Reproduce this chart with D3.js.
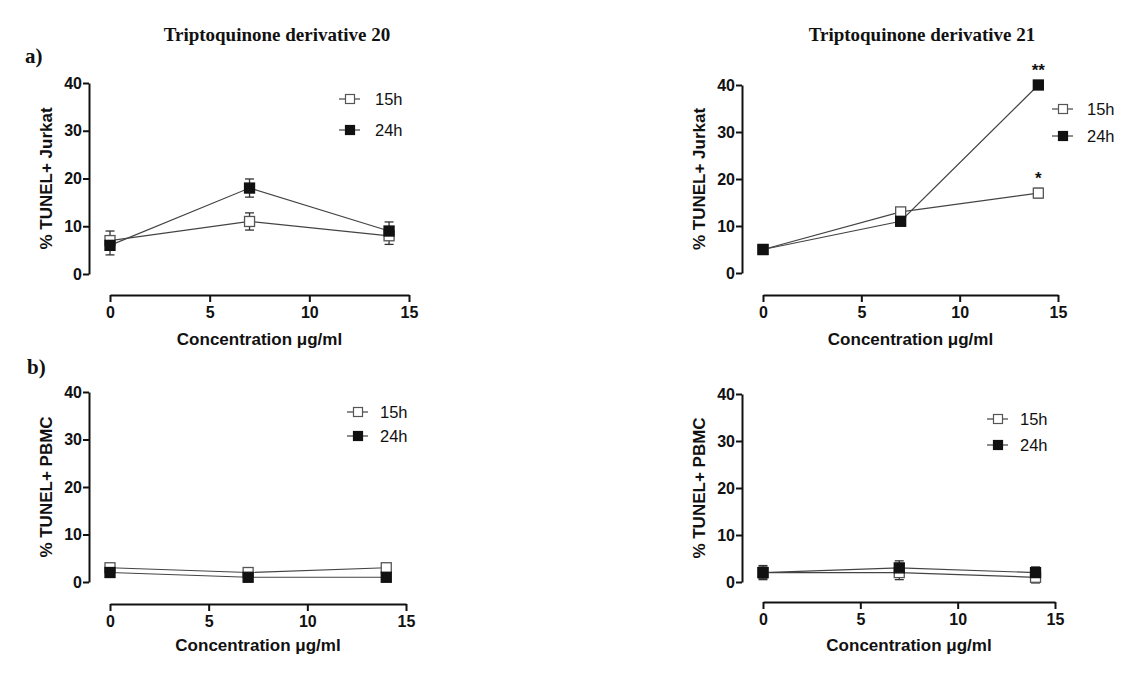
<!DOCTYPE html>
<html>
<head>
<meta charset="UTF-8">
<title>TUNEL</title>
<script src="https://cdn.jsdelivr.net/npm/d3@7"></script>
<style>
  body { margin: 0; background: #fff; }
  svg text { fill: #111; }
  .domain, .tick line { stroke: #111; stroke-width: 2px; }
</style>
</head>
<body>
<script>
// data
var conc = [0, 7, 14];
var seriesNames = ["15h", "24h"];
var xTicks = [0, 5, 10, 15];
var yTicks = [0, 10, 20, 30, 40];

var jurkat20_15 = [7, 11, 8],  jurkat20_15err = [2, 1.8, 1.8];
var jurkat20_24 = [6, 18, 9],  jurkat20_24err = [2, 1.9, 1.9];
var jurkat21_15 = [5, 13, 17], jurkat21_15err = [0.8, 0.8, 1];
var jurkat21_24 = [5, 11, 40], jurkat21_24err = [0.8, 0.8, 0.6];
var pbmc20_15 = [3, 2, 3],     pbmc20_15err = [0.6, 0.5, 0.6];
var pbmc20_24 = [2, 1, 1],     pbmc20_24err = [0.5, 0.5, 0.5];
var pbmc21_15 = [2, 2, 1],     pbmc21_15err = [1.5, 1.5, 1.2];
var pbmc21_24 = [2, 3, 2],     pbmc21_24err = [1.2, 1.5, 1.2];

var W = 1131, H = 675;
var sans = "Liberation Sans, Arial, sans-serif";
var serif = "Liberation Serif, Times New Roman, serif";
var svg = d3.select("body").append("svg").attr("width", W).attr("height", H);

// panel layout: yaxis x, x range, y range, x-axis y, legend spot
var panels = [
  { ylab: "% TUNEL+ Jurkat", ax: 89, x0: 110, x1: 409, yTop: 83, yBot: 274, xAxisY: 295, xlabY: 339,
    legX: 350, legY: 99, legDy: 31, legTx: 25,
    s15: jurkat20_15, e15: jurkat20_15err, s24: jurkat20_24, e24: jurkat20_24err },
  { ylab: "% TUNEL+ Jurkat", ax: 742, x0: 763, x1: 1058, yTop: 85, yBot: 273, xAxisY: 295, xlabY: 339,
    legX: 1063, legY: 109, legDy: 27, legTx: 24,
    s15: jurkat21_15, e15: jurkat21_15err, s24: jurkat21_24, e24: jurkat21_24err,
    stars: [[14, 40, "**"], [14, 17, "*"]] },
  { ylab: "% TUNEL+ PBMC", ax: 89, x0: 110, x1: 406, yTop: 392, yBot: 582, xAxisY: 604, xlabY: 645,
    legX: 358, legY: 412, legDy: 24, legTx: 22,
    s15: pbmc20_15, e15: pbmc20_15err, s24: pbmc20_24, e24: pbmc20_24err },
  { ylab: "% TUNEL+ PBMC", ax: 742, x0: 763, x1: 1055, yTop: 394, yBot: 582, xAxisY: 602, xlabY: 645,
    legX: 998, legY: 419, legDy: 26, legTx: 22,
    s15: pbmc21_15, e15: pbmc21_15err, s24: pbmc21_24, e24: pbmc21_24err }
];

// titles
function title(x, y, size, txt, anchor) {
  svg.append("text").attr("x", x).attr("y", y).attr("text-anchor", anchor || "start")
    .style("font-family", serif).style("font-weight", "bold").style("font-size", size + "px")
    .text(txt);
}
title(277, 41, 19, "Triptoquinone derivative 20", "middle");
title(922, 41, 19, "Triptoquinone derivative 21", "middle");
title(25, 63, 21, "a)");
title(27, 374, 21, "b)");

panels.forEach(function (p) {
  var x = d3.scaleLinear().domain([0, 15]).range([p.x0, p.x1]);
  var y = d3.scaleLinear().domain([0, 40]).range([p.yBot, p.yTop]);
  var g = svg.append("g");

  // axes (detached, prism style)
  var ya = g.append("g").attr("transform", "translate(" + p.ax + ",0)")
    .call(d3.axisLeft(y).tickValues(yTicks).tickSize(6).tickSizeOuter(0).tickPadding(1));
  var xa = g.append("g").attr("transform", "translate(0," + p.xAxisY + ")")
    .call(d3.axisBottom(x).tickValues(xTicks).tickSize(7).tickSizeOuter(0).tickPadding(5));
  [ya, xa].forEach(function (a) {
    a.attr("font-size", null).attr("font-family", null);
    a.selectAll(".tick text").style("font-family", sans).style("font-weight", "bold").style("font-size", "16px");
  });

  // axis labels
  g.append("text").attr("x", (p.x0 + p.x1) / 2).attr("y", p.xlabY + 6).attr("text-anchor", "middle")
    .style("font-family", sans).style("font-weight", "bold").style("font-size", "17px")
    .text("Concentration \u03bcg/ml");
  g.append("text")
    .attr("transform", "translate(" + (p.ax - 43) + "," + ((p.yTop + p.yBot) / 2) + ") rotate(-90)")
    .attr("text-anchor", "middle").attr("dy", "0.35em")
    .style("font-family", sans).style("font-weight", "bold").style("font-size", "17px")
    .text(p.ylab);

  var sets = [
    { vals: p.s15, err: p.e15, fill: "#fff" },
    { vals: p.s24, err: p.e24, fill: "#111" }
  ];
  var line = d3.line().x(function (d) { return x(d[0]); }).y(function (d) { return y(d[1]); });

  sets.forEach(function (s) {
    var pts = conc.map(function (c, i) { return [c, s.vals[i], s.err[i]]; });
    g.append("path").datum(pts).attr("d", line)
      .attr("fill", "none").attr("stroke", "#444").attr("stroke-width", 1.2);
    // error bars
    var eb = g.selectAll(null).data(pts).enter().append("g");
    eb.append("line").attr("x1", function (d) { return x(d[0]); }).attr("x2", function (d) { return x(d[0]); })
      .attr("y1", function (d) { return y(d[1] - d[2]); }).attr("y2", function (d) { return y(d[1] + d[2]); })
      .attr("stroke", "#333").attr("stroke-width", 1.3);
    [-1, 1].forEach(function (sg) {
      eb.append("line").attr("x1", function (d) { return x(d[0]) - 4.5; }).attr("x2", function (d) { return x(d[0]) + 4.5; })
        .attr("y1", function (d) { return y(d[1] + sg * d[2]); }).attr("y2", function (d) { return y(d[1] + sg * d[2]); })
        .attr("stroke", "#333").attr("stroke-width", 1.3);
    });
  });
  sets.forEach(function (s) {
    g.selectAll(null).data(conc).enter().append("rect")
      .attr("x", function (c) { return x(c) - 5; })
      .attr("y", function (c, i) { return y(s.vals[i]) - 5; })
      .attr("width", 10).attr("height", 10)
      .attr("fill", s.fill).attr("stroke", s.fill === "#fff" ? "#555" : "#111").attr("stroke-width", 1.3);
  });

  if (p.stars) {
    p.stars.forEach(function (st) {
      g.append("text").attr("x", x(st[0])).attr("y", y(st[1]) - 9).attr("text-anchor", "middle")
        .style("font-family", sans).style("font-weight", "bold").style("font-size", "17px")
        .text(st[2]);
    });
  }

  // legend
  var leg = g.selectAll(".leg").data(sets).enter().append("g")
    .attr("transform", function (d, i) { return "translate(" + p.legX + "," + (p.legY + i * p.legDy) + ")"; });
  leg.append("line").attr("x1", -11).attr("x2", 10).attr("stroke", "#444").attr("stroke-width", 1.2);
  leg.append("rect").attr("x", -4.5).attr("y", -4.5).attr("width", 9).attr("height", 9)
    .attr("fill", function (d) { return d.fill; })
    .attr("stroke", function (d) { return d.fill === "#fff" ? "#555" : "#111"; }).attr("stroke-width", 1.2);
  leg.append("text").attr("x", p.legTx).attr("dy", "0.36em")
    .style("font-family", sans).style("font-size", "16.5px")
    .text(function (d, i) { return seriesNames[i]; });
});
</script>
</body>
</html>
